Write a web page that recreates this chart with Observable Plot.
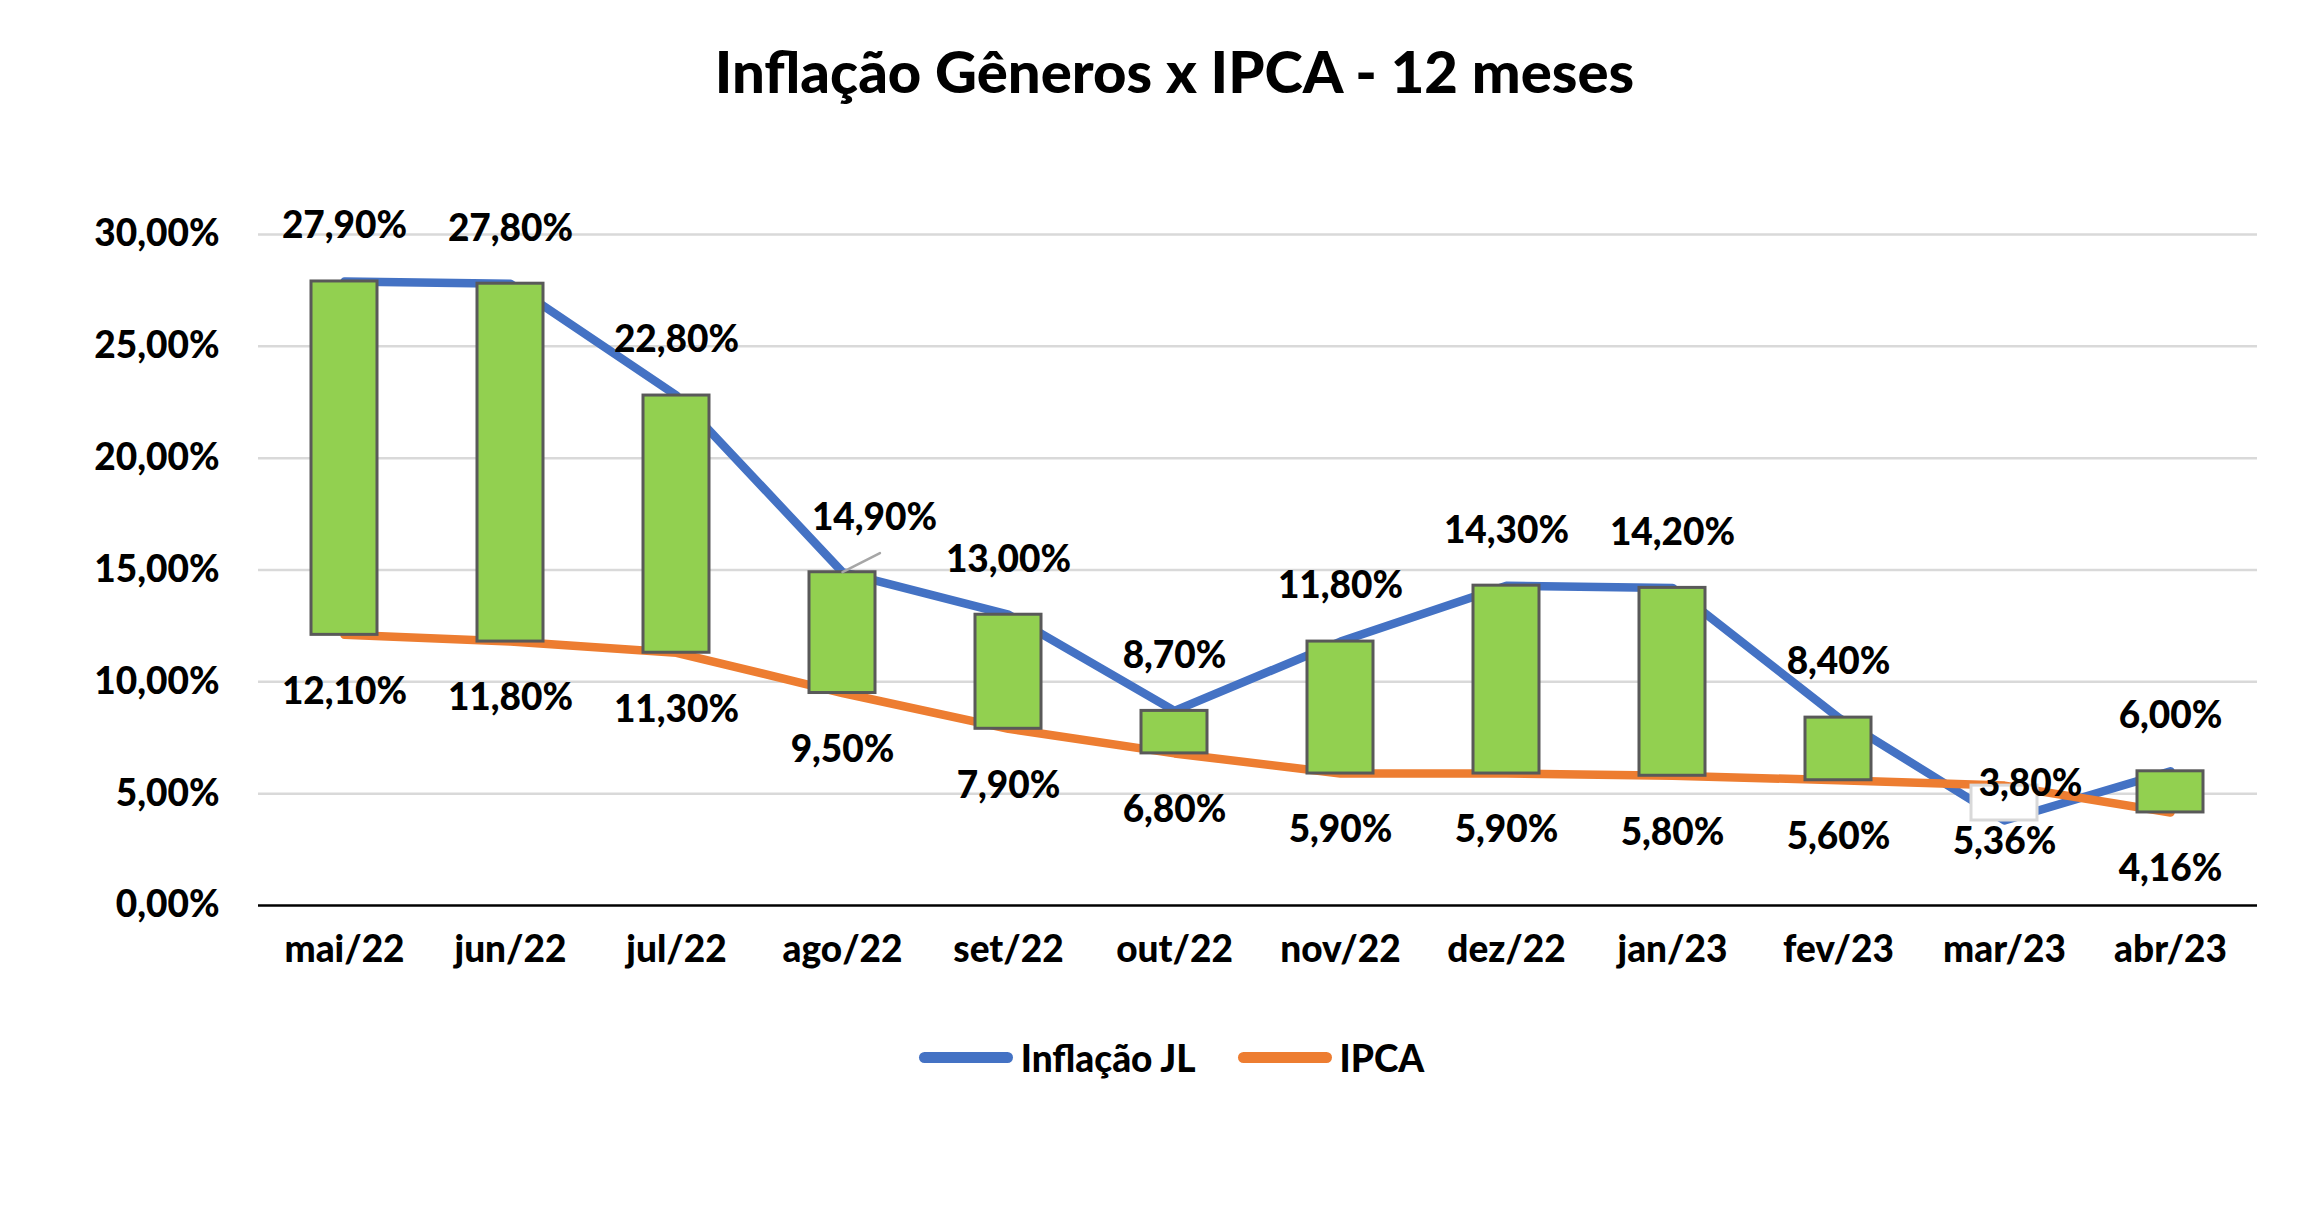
<!DOCTYPE html>
<html><head><meta charset="utf-8">
<script src="https://cdn.jsdelivr.net/npm/d3@7"></script>
<script src="https://cdn.jsdelivr.net/npm/@observablehq/plot@0.6"></script>
<style>
body{margin:0;background:#fff;font-family:Lato,"Open Sans",sans-serif;width:2323px;height:1231px;overflow:hidden;color:#000}
#title{height:140px;display:flex;align-items:center;justify-content:center;font-weight:900;font-size:58px;padding-left:26px;box-sizing:border-box}
#chart svg{display:block}
#legend{height:74px;display:flex;justify-content:center;align-items:center;font-weight:900;font-size:37px;padding-left:20px;box-sizing:border-box}
.item{display:flex;align-items:center;margin:0 21px}
.sw{width:94px;height:11px;border-radius:5.5px;margin-right:8px}
</style></head><body>
<div id="title">Inflação Gêneros x IPCA - 12 meses</div>
<div id="chart"></div>
<div id="legend"></div>
<script>
const months = ["mai/22","jun/22","jul/22","ago/22","set/22","out/22","nov/22","dez/22","jan/23","fev/23","mar/23","abr/23"];
const inflacaoJL = [27.9, 27.8, 22.8, 14.9, 13.0, 8.7, 11.8, 14.3, 14.2, 8.4, 3.8, 6.0];
const ipca = [12.1, 11.8, 11.3, 9.5, 7.9, 6.8, 5.9, 5.9, 5.8, 5.6, 5.36, 4.16];
const yTicks = [0, 5, 10, 15, 20, 25, 30];
const seriesNames = ["Inflação JL", "IPCA"];
const seriesColors = ["#4472C4", "#ED7D31"];

const rows = months.map((m, i) => ({
  month: m, jl: inflacaoJL[i], ipca: ipca[i],
  lo: Math.min(inflacaoJL[i], ipca[i]), hi: Math.max(inflacaoJL[i], ipca[i]),
  up: inflacaoJL[i] >= ipca[i]
}));
const fmt = v => v.toFixed(2).replace(".", ",") + "%";
const W = 900;
const txt = {fontSize: 37, fontWeight: W, fill: "#000", lineAnchor: "middle", fontFamily: "Lato"};
const special = ["ago/22", "mar/23"];

const chart = Plot.plot({
  width: 2323, height: 880,
  marginTop: 94, marginBottom: 115, marginLeft: 258, marginRight: 66,
  style: {fontFamily: "Lato", background: "#fff"},
  x: {type: "band", domain: months, paddingInner: 0.6, paddingOuter: 0.3, label: null},
  y: {domain: [0, 30], label: null},
  marks: [
    Plot.ruleY(yTicks.filter(d => d > 0), {stroke: "#d9d9d9", strokeWidth: 2.5}),
    Plot.axisY({ticks: yTicks, tickFormat: fmt, tickSize: 0, tickPadding: 39, fontSize: 37, fontWeight: W, label: null}),
    Plot.axisX({tickSize: 0, tickPadding: 30, fontSize: 37, fontWeight: W, label: null}),
    Plot.line(rows, {x: "month", y: "jl", stroke: seriesColors[0], strokeWidth: 8.5, strokeLinecap: "round", strokeLinejoin: "round"}),
    Plot.line(rows, {x: "month", y: "ipca", stroke: seriesColors[1], strokeWidth: 8.5, strokeLinecap: "round", strokeLinejoin: "round"}),
    Plot.barY(rows.filter(d => d.up), {x: "month", y1: "lo", y2: "hi", fill: "#92D050", stroke: "#595959", strokeWidth: 3}),
    Plot.barY(rows.filter(d => !d.up), {x: "month", y1: "lo", y2: "hi", fill: "#ffffff", stroke: "#d9d9d9", strokeWidth: 3}),
    Plot.ruleY([0], {stroke: "#000", strokeWidth: 2.5}),
    Plot.vector(rows.filter(d => d.month === "ago/22"), {x: "month", y: "jl", length: 42, rotate: 63, anchor: "start", stroke: "#a6a6a6", strokeWidth: 2.5,
      shape: {draw(ctx, l) { ctx.moveTo(0, 0); ctx.lineTo(0, -l); }}}),
    Plot.text(rows.filter(d => !special.includes(d.month)), {x: "month", y: "jl", text: d => fmt(d.jl), dy: -55, ...txt}),
    Plot.text(rows.filter(d => d.month === "ago/22"), {x: "month", y: "jl", text: d => fmt(d.jl), dx: 32, dy: -54, ...txt}),
    Plot.text(rows.filter(d => d.month === "mar/23"), {x: "month", y: "jl", text: d => fmt(d.jl), dx: 26, dy: -36, ...txt}),
    Plot.text(rows, {x: "month", y: "ipca", text: d => fmt(d.ipca), dy: 57, ...txt})
  ]
});
document.getElementById("chart").appendChild(chart);

const legend = document.getElementById("legend");
seriesNames.forEach((n, i) => {
  const it = document.createElement("div"); it.className = "item";
  const sw = document.createElement("div"); sw.className = "sw"; sw.style.background = seriesColors[i];
  const t = document.createElement("span"); t.textContent = n;
  it.appendChild(sw); it.appendChild(t); legend.appendChild(it);
});
</script>
</body></html>
